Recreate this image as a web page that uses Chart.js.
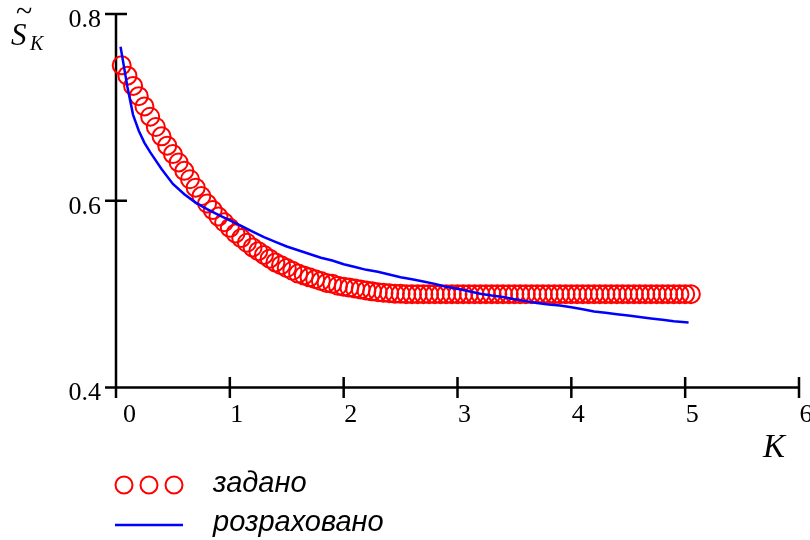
<!DOCTYPE html>
<html><head><meta charset="utf-8">
<script src="https://cdn.jsdelivr.net/npm/chart.js@4/dist/chart.umd.min.js"></script>
<style>html,body{margin:0;padding:0;background:#fff}canvas{display:block}</style>
</head><body>
<canvas id="c" width="810" height="540"></canvas>
<script>
const seriesNames = ['задано', 'розраховано'];
const xTicks = [0, 1, 2, 3, 4, 5, 6];
const yTicks = [0.4, 0.6, 0.8];

const circleK = [0.05,0.10,0.15,0.20,0.25,0.30,0.35,0.40,0.45,0.50,
  0.55,0.60,0.65,0.70,0.75,0.80,0.85,0.90,0.95,1.00,
  1.05,1.10,1.15,1.20,1.25,1.30,1.35,1.40,1.45,1.50,
  1.55,1.60,1.65,1.70,1.75,1.80,1.85,1.90,1.95,2.00,
  2.05,2.10,2.15,2.20,2.25,2.30,2.35,2.40,2.45,2.50,
  2.55,2.60,2.65,2.70,2.75,2.80,2.85,2.90,2.95,3.00,
  3.05,3.10,3.15,3.20,3.25,3.30,3.35,3.40,3.45,3.50,
  3.55,3.60,3.65,3.70,3.75,3.80,3.85,3.90,3.95,4.00,
  4.05,4.10,4.15,4.20,4.25,4.30,4.35,4.40,4.45,4.50,
  4.55,4.60,4.65,4.70,4.75,4.80,4.85,4.90,4.95,5.00,5.05];
const circleS = [0.745,0.734,0.723,0.712,0.701,0.690,0.679,0.669,0.659,0.650,
  0.641,0.632,0.623,0.614,0.605,0.597,0.590,0.583,0.577,0.571,
  0.565,0.560,0.555,0.550,0.546,0.542,0.538,0.534,0.531,0.528,
  0.525,0.522,0.520,0.518,0.516,0.514,0.512,0.511,0.509,0.508,
  0.507,0.506,0.505,0.504,0.503,0.502,0.5015,0.501,0.5005,0.5003,
  0.500,0.500,0.500,0.500,0.500,0.500,0.500,0.500,0.500,0.500,
  0.500,0.500,0.500,0.500,0.500,0.500,0.500,0.500,0.500,0.500,
  0.500,0.500,0.500,0.500,0.500,0.500,0.500,0.500,0.500,0.500,
  0.500,0.500,0.500,0.500,0.500,0.500,0.500,0.500,0.500,0.500,
  0.500,0.500,0.500,0.500,0.500,0.500,0.500,0.500,0.500,0.500,0.500];

const lineK = [0.04,0.10,0.15,0.20,0.25,0.30,0.40,0.50,0.60,0.70,0.80,0.90,
  1.00,1.10,1.20,1.30,1.40,1.50,1.60,1.70,1.80,1.90,
  2.00,2.10,2.20,2.30,2.40,2.50,2.60,2.70,2.80,2.90,
  3.00,3.10,3.20,3.30,3.40,3.50,3.60,3.70,3.80,3.90,
  4.00,4.10,4.20,4.30,4.40,4.50,4.60,4.70,4.80,4.90,5.03];
const lineS = [0.765,0.722,0.692,0.675,0.662,0.652,0.634,0.618,0.607,0.598,0.591,0.585,
  0.579,0.573,0.567,0.561,0.556,0.551,0.547,0.543,0.539,0.536,
  0.532,0.529,0.526,0.524,0.521,0.518,0.516,0.5136,0.511,0.508,
  0.5057,0.503,0.5005,0.4985,0.497,0.4945,0.4925,0.4906,0.489,0.4878,
  0.486,0.4838,0.4815,0.480,0.4785,0.477,0.4755,0.474,0.4726,0.471,0.4697];

const circleData = circleK.map((k, i) => ({x: k, y: circleS[i]}));
const lineData = lineK.map((k, i) => ({x: k, y: lineS[i]}));

const drawPlugin = {
  id: 'drawPlugin',
  beforeDatasetsDraw(chart) {
    const ctx = chart.ctx, xs = chart.scales.x, ys = chart.scales.y;
    const x0 = xs.getPixelForValue(0), x6 = xs.getPixelForValue(6);
    const yTop = ys.getPixelForValue(0.8), yBot = ys.getPixelForValue(0.4);
    ctx.save();
    ctx.strokeStyle = '#000';
    ctx.lineWidth = 2.5;
    ctx.lineCap = 'butt';
    ctx.beginPath();
    ctx.moveTo(x0, yTop); ctx.lineTo(x0, yBot + 10.5);
    ctx.moveTo(x0 - 11, yBot); ctx.lineTo(x6, yBot);
    yTicks.forEach(v => { const y = ys.getPixelForValue(v); ctx.moveTo(x0 - 11, y); ctx.lineTo(x0 + 11, y); });
    xTicks.forEach(v => { if (v === 0) return; const x = xs.getPixelForValue(v); ctx.moveTo(x, yBot - 10.5); ctx.lineTo(x, yBot + 10.5); });
    ctx.stroke();
    ctx.restore();
  },
  afterDraw(chart) {
    const ctx = chart.ctx;
    ctx.save();
    ctx.fillStyle = '#000';
    ctx.textBaseline = 'alphabetic';
    // y-axis title S~_K
    ctx.textAlign = 'left';
    ctx.font = 'italic 31px "Liberation Serif"';
    ctx.fillText('S', 11, 45);
    ctx.textAlign = 'center';
    ctx.font = '30px "Liberation Serif"';
    ctx.fillText('~', 24, 21);
    ctx.textAlign = 'left';
    ctx.font = 'italic 20px "Liberation Serif"';
    ctx.fillText('K', 30, 50);
    // x-axis title
    ctx.font = 'italic 33px "Liberation Serif"';
    ctx.fillText('K', 763, 457);
    // legend
    ctx.strokeStyle = '#ff0000';
    ctx.lineWidth = 2;
    [124, 149, 174].forEach(cx => { ctx.beginPath(); ctx.arc(cx, 485, 8.5, 0, Math.PI * 2); ctx.stroke(); });
    ctx.strokeStyle = '#0000ff';
    ctx.lineWidth = 2.5;
    ctx.beginPath(); ctx.moveTo(115, 525); ctx.lineTo(183, 525); ctx.stroke();
    ctx.font = 'italic 29px "Liberation Sans"';
    ctx.fillText(seriesNames[0], 213, 492);
    ctx.fillText(seriesNames[1], 213, 531);
    ctx.restore();
  }
};

new Chart(document.getElementById('c'), {
  type: 'scatter',
  data: {
    datasets: [
      { label: seriesNames[1], data: lineData, showLine: true, pointRadius: 0, borderColor: '#0000ff',
        borderWidth: 2.5, tension: 0, order: 0, clip: false },
      { label: seriesNames[0], data: circleData, showLine: false, pointRadius: 9, pointBorderWidth: 2,
        borderColor: '#ff0000', pointBorderColor: '#ff0000', backgroundColor: 'rgba(0,0,0,0)',
        pointBackgroundColor: 'rgba(0,0,0,0)', order: 1, clip: false }
    ]
  },
  options: {
    responsive: false,
    animation: false,
    devicePixelRatio: 1,
    layout: { padding: { top: 14, right: 11, bottom: 0, left: 0 } },
    plugins: { legend: { display: false }, tooltip: { enabled: false } },
    scales: {
      x: {
        type: 'linear', min: 0, max: 6,
        grid: { display: false, drawTicks: false }, border: { display: false },
        afterBuildTicks: s => { s.ticks = xTicks.map(v => ({ value: v })); },
        afterFit: s => { s.height = 152.5; s.paddingLeft = 0; s.paddingRight = 0; s.paddingTop = 0; s.paddingBottom = 0; },
        ticks: { autoSkip: false, maxRotation: 0, padding: 12, labelOffset: 7, color: '#000',
          font: { family: '"Liberation Serif"', size: 26 }, callback: v => (v === 0 ? '  0' : String(v)) }
      },
      y: {
        type: 'linear', min: 0.4, max: 0.8,
        grid: { display: false, drawTicks: false }, border: { display: false },
        afterBuildTicks: s => { s.ticks = yTicks.map(v => ({ value: v })); },
        afterFit: s => { s.width = 116; s.paddingLeft = 0; s.paddingRight = 0; s.paddingTop = 0; s.paddingBottom = 0; },
        ticks: { autoSkip: false, padding: 15, labelOffset: 6, color: '#000',
          font: { family: '"Liberation Serif"', size: 26 }, callback: v => Number(v).toFixed(1) }
      }
    }
  },
  plugins: [drawPlugin]
});
</script>
</body></html>
